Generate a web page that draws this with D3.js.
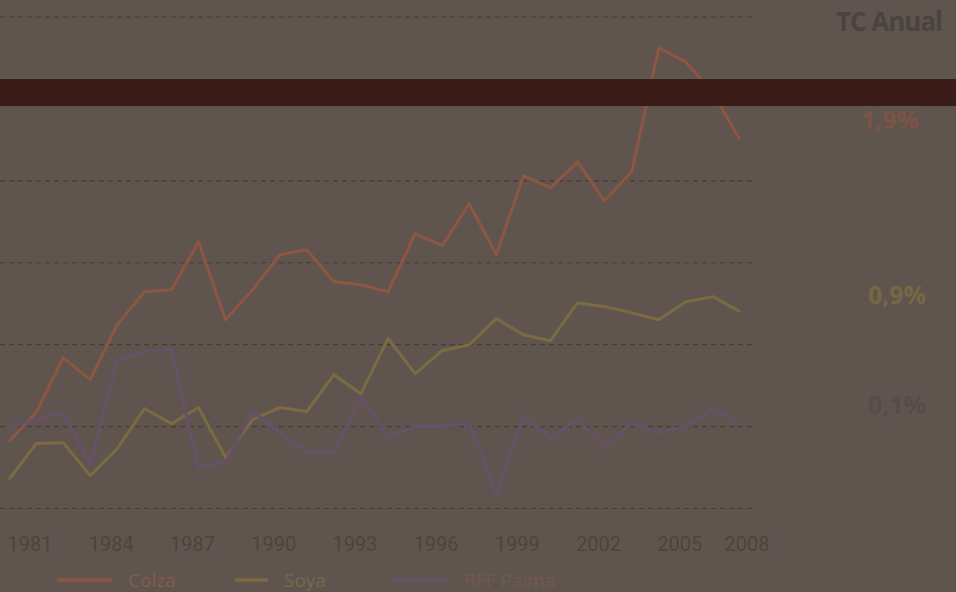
<!DOCTYPE html>
<html>
<head>
<meta charset="utf-8">
<script src="https://cdn.jsdelivr.net/npm/d3@7"></script>
<style>
  html, body { margin: 0; padding: 0; background: #5f554e; }
  svg { display: block; }
</style>
</head>
<body>
<div id="chart"></div>
<script>
// years shown on the chart
const years = d3.range(1981, 2009);
const tickYears = [1981, 1984, 1987, 1990, 1993, 1996, 1999, 2002, 2005, 2008];

// series values (index)
const colza = [40.9, 58.5, 92.1, 78.7, 112.2, 132.3, 133.5, 162.8, 115.2, 133.5,
               154.9, 157.9, 138.4, 136.6, 132.3, 167.7, 160.4, 186.0, 154.9, 203.0,
               195.7, 211.6, 187.8, 205.5, 281.1, 272.6, 253.7, 225.0];
const soya = [17.7, 39.6, 40.2, 20.1, 36.6, 61.0, 51.8, 61.6, 31.1, 54.3,
              61.6, 59.2, 81.7, 70.1, 103.7, 82.3, 96.3, 100.0, 115.9, 106.1,
              102.4, 125.6, 123.2, 119.5, 115.2, 126.2, 129.3, 120.1];
const palma = [49.4, 54.3, 58.5, 26.8, 90.9, 95.7, 97.0, 25.0, 28.7, 59.2,
               46.3, 34.8, 34.8, 68.3, 43.3, 50.0, 50.0, 51.8, 9.1, 56.1,
               43.3, 54.3, 37.8, 52.4, 46.3, 50.0, 60.4, 52.4];

const gridValues = [0, 50, 100, 150, 200, 250, 300];
const seriesNames = ["Colza", "Soya", "RFF Palma"];
const growth = ["1,9%", "0,9%", "0,1%"];

const colors = ["#8f5543", "#7c6b40", "#685069"];
const legendColors = ["#825c4c", "#78694b", "#735852"];
const growthColors = ["#7c5447", "#776845", "#574b4f"];

const width = 956, height = 592;

const svg = d3.select("#chart").append("svg")
    .attr("width", width)
    .attr("height", height);

svg.append("rect")
    .attr("width", width).attr("height", height)
    .attr("fill", "#5f554e");

const x = d3.scaleLinear().domain([1981, 2008]).range([9, 740]);
const y = d3.scaleLinear().domain([0, 300]).range([508.5, 17]);

// dashed gridlines
svg.append("g")
    .selectAll("line")
    .data(gridValues)
    .join("line")
    .attr("x1", 0).attr("x2", 756)
    .attr("y1", d => y(d)).attr("y2", d => y(d))
    .attr("stroke", "#463d37")
    .attr("stroke-width", 1.2)
    .attr("stroke-dasharray", "5,4");

// lines
const line = d3.line()
    .x((d, i) => x(years[i]))
    .y(d => y(d));

const allSeries = [colza, soya, palma];
svg.append("g")
    .selectAll("path")
    .data(allSeries)
    .join("path")
    .attr("d", d => line(d))
    .attr("fill", "none")
    .attr("stroke", (d, i) => colors[i])
    .attr("stroke-width", 3)
    .attr("stroke-linejoin", "round");

// x labels (sit a bit to the right of their point in the original)
svg.append("g")
    .selectAll("text")
    .data(tickYears)
    .join("text")
    .attr("x", d => x(d) + (d === 2008 ? 7 : 21))
    .attr("y", 551)
    .attr("text-anchor", "middle")
    .attr("font-family", "'Liberation Sans Narrow', 'Roboto', sans-serif")
    .attr("font-size", 20)
    .attr("fill", "#4f433c")
    .text(d => d);

// legend
const legendX = [57, 235, 392];
const legendW = [55, 33, 56];
const legend = svg.append("g");
seriesNames.forEach((name, i) => {
    legend.append("line")
        .attr("x1", legendX[i]).attr("x2", legendX[i] + legendW[i])
        .attr("y1", 580).attr("y2", 580)
        .attr("stroke", colors[i])
        .attr("stroke-width", 3.5);
    legend.append("text")
        .attr("x", legendX[i] + legendW[i] + 16)
        .attr("y", 587)
        .attr("font-family", "'Open Sans', 'DejaVu Sans', sans-serif")
        .attr("font-size", 19)
        .attr("fill", legendColors[i])
        .text(name);
});

// dark band across the top
svg.append("rect")
    .attr("x", 0).attr("y", 79)
    .attr("width", width).attr("height", 27)
    .attr("fill", "#3a1c18");

// annual growth column
svg.append("text")
    .attr("x", 889).attr("y", 31)
    .attr("text-anchor", "middle")
    .attr("font-family", "'Open Sans', 'DejaVu Sans', sans-serif")
    .attr("font-weight", "bold")
    .attr("font-size", 26)
    .attr("letter-spacing", -1)
    .attr("fill", "#4a433f")
    .text("TC Anual");

const growthY = [129, 304, 414];
svg.append("g")
    .selectAll("text")
    .data(growth)
    .join("text")
    .attr("x", (d, i) => i === 0 ? 890 : 897)
    .attr("y", (d, i) => growthY[i])
    .attr("text-anchor", "middle")
    .attr("font-family", "'Open Sans', 'DejaVu Sans', sans-serif")
    .attr("font-weight", "bold")
    .attr("font-size", 25)
    .attr("fill", (d, i) => growthColors[i])
    .text(d => d);
</script>
</body>
</html>
